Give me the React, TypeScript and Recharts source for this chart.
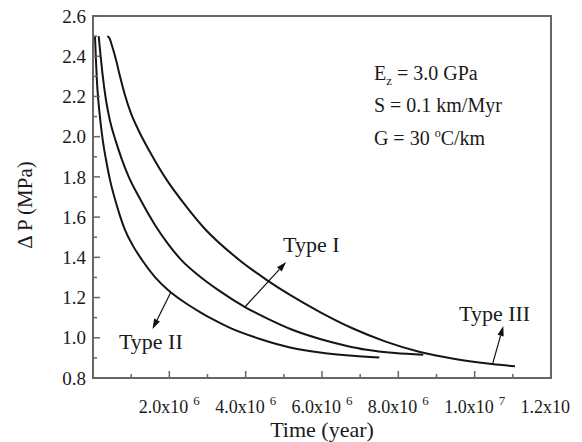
import React from 'react';
import { LineChart, Line, XAxis, YAxis, ReferenceArea, ReferenceLine, ReferenceDot, Label } from 'recharts';

// Time in years, pressure difference in MPa
const typeIITime = [5.2e4, 7.9e4, 1.05e5, 1.39e5, 1.96e5, 2.62e5, 3.41e5, 4.45e5, 6.03e5, 7.07e5, 8.38e5, 1.048e6, 1.284e6, 1.624e6, 1.965e6, 2.384e6, 2.803e6, 3.196e6, 3.589e6, 4.375e6, 5.161e6, 5.947e6, 6.733e6, 7.501e6];
const typeIIP = [2.5, 2.372, 2.27, 2.181, 2.074, 1.974, 1.885, 1.785, 1.671, 1.606, 1.536, 1.457, 1.387, 1.302, 1.238, 1.178, 1.128, 1.086, 1.049, 0.994, 0.952, 0.927, 0.912, 0.902];

const typeITime = [1.49e5, 1.96e5, 2.49e5, 3.41e5, 4.45e5, 6.03e5, 7.6e5, 9.25e5, 1.231e6, 1.624e6, 1.965e6, 2.298e6, 2.751e6, 3.275e6, 3.982e6, 4.585e6, 5.206e6, 5.947e6, 6.602e6, 7.171e6, 7.912e6, 8.653e6];
const typeIP = [2.5, 2.407, 2.312, 2.181, 2.079, 1.974, 1.885, 1.805, 1.691, 1.561, 1.467, 1.39, 1.312, 1.238, 1.153, 1.094, 1.041, 0.994, 0.962, 0.94, 0.924, 0.916];

const typeIIITime = [3.75e5, 4.32e5, 4.98e5, 6.03e5, 7.07e5, 8.38e5, 9.96e5, 1.179e6, 1.493e6, 1.931e6, 2.41e6, 2.934e6, 3.799e6, 4.585e6, 5.161e6, 5.947e6, 6.812e6, 7.65e6, 8.567e6, 9.484e6, 1.0453e7, 1.1056e7];
const typeIIIP = [2.5, 2.489, 2.452, 2.382, 2.3, 2.206, 2.116, 2.037, 1.924, 1.785, 1.661, 1.541, 1.392, 1.283, 1.213, 1.128, 1.046, 0.982, 0.929, 0.895, 0.87, 0.858];

const xTicks = [0, 1e6, 2e6, 3e6, 4e6, 5e6, 6e6, 7e6, 8e6, 9e6, 1e7, 1.1e7, 1.2e7];
const yTicks = [0.8, 0.9, 1.0, 1.1, 1.2, 1.3, 1.4, 1.5, 1.6, 1.7, 1.8, 1.9, 2.0, 2.1, 2.2, 2.3, 2.4, 2.5, 2.6];

const toRows = (ts: number[], ps: number[]) => ts.map((t, i) => ({ t, p: ps[i] }));
const typeII = toRows(typeIITime, typeIIP);
const typeI = toRows(typeITime, typeIP);
const typeIII = toRows(typeIIITime, typeIIIP);

const FONT = '"Liberation Serif", "Times New Roman", serif';
const TXT = '#1a1a1a';
const AXIS = '#666';
const CURVE = '#151515';

const XTick = (props: any) => {
  const { x, y, payload } = props;
  const v = payload.value as number;
  const major = Math.round(v / 1e6) % 2 === 0;
  const len = major ? 7 : 4;
  let label: any = null;
  if (major && v > 0) {
    const exp = Math.floor(Math.log10(v) + 1e-9);
    const mant = (v / Math.pow(10, exp)).toFixed(1);
    label = (
      <text x={x} y={y + 35} textAnchor="middle" fontFamily={FONT} fontSize={18} fill={TXT}>
        <tspan>{mant}x10</tspan>
        <tspan dx={5} dy={-8} fontSize={13}>{exp}</tspan>
      </text>
    );
  }
  return (
    <g>
      <line x1={x} y1={y} x2={x} y2={y - len} stroke={AXIS} strokeWidth={1.5} />
      {label}
    </g>
  );
};

const YTick = (props: any) => {
  const { x, y, payload } = props;
  const v = payload.value as number;
  const major = Math.round(v * 10) % 2 === 0;
  const len = major ? 7 : 4;
  return (
    <g>
      <line x1={x} y1={y} x2={x + len} y2={y} stroke={AXIS} strokeWidth={1.5} />
      {major && (
        <text x={x - 7} y={y} dy="0.35em" textAnchor="end" fontFamily={FONT} fontSize={19} fill={TXT}>
          {v.toFixed(1)}
        </text>
      )}
    </g>
  );
};

const Arrow = (props: any) => {
  const { x1, y1, x2, y2 } = props;
  const ang = Math.atan2(y2 - y1, x2 - x1);
  const L = 10;
  const W = 3.2;
  const bx = x2 - L * Math.cos(ang);
  const by = y2 - L * Math.sin(ang);
  const px = -Math.sin(ang) * W;
  const py = Math.cos(ang) * W;
  return (
    <g>
      <line x1={x1} y1={y1} x2={bx} y2={by} stroke="#111" strokeWidth={1.2} />
      <polygon points={`${x2},${y2} ${bx + px},${by + py} ${bx - px},${by - py}`} fill="#111" />
    </g>
  );
};

const makeText = (content: any, size: number) => (p: any) => (
  <text x={p.cx} y={p.cy} fontFamily={FONT} fontSize={size} fill={TXT}>
    {content}
  </text>
);

const XTitle = (props: any) => {
  const vb = props.viewBox || {};
  return (
    <text x={vb.x + vb.width / 2} y={vb.y + 59} textAnchor="middle" fontFamily={FONT} fontSize={22} fill={TXT}>
      Time (year)
    </text>
  );
};

const YTitle = (props: any) => {
  const vb = props.viewBox || {};
  const cx = 25;
  const cy = vb.y + vb.height / 2 + 8;
  return (
    <text x={cx} y={cy} transform={`rotate(-90 ${cx} ${cy})`} textAnchor="middle" dominantBaseline="central" fontFamily={FONT} fontSize={21} fill={TXT}>
      Δ P (MPa)
    </text>
  );
};

export default function App() {
  return (
    <div style={{ width: 582, height: 442, margin: '-8px 0 0 -8px' }}>
      <LineChart width={582} height={442} margin={{ top: 16, right: 31, bottom: 0, left: 8 }}>
        <XAxis
          dataKey="t"
          type="number"
          domain={[0, 1.2e7]}
          ticks={xTicks}
          interval={0}
          tickSize={0}
          tickMargin={0}
          tick={<XTick />}
          axisLine={{ stroke: AXIS, strokeWidth: 2 }}
          height={64}
          allowDataOverflow
        >
          <Label content={XTitle} />
        </XAxis>
        <YAxis
          type="number"
          domain={[0.8, 2.6]}
          ticks={yTicks}
          interval={0}
          tickSize={0}
          tickMargin={0}
          tick={<YTick />}
          axisLine={{ stroke: AXIS, strokeWidth: 2 }}
          width={85}
          allowDataOverflow
        >
          <Label content={YTitle} />
        </YAxis>
        <ReferenceArea x1={0} x2={1.2e7} y1={0.8} y2={2.6} fill="none" stroke={AXIS} strokeWidth={2} ifOverflow="visible" />
        <Line data={typeII} dataKey="p" type="monotone" stroke={CURVE} strokeWidth={2} dot={false} isAnimationActive={false} />
        <Line data={typeI} dataKey="p" type="monotone" stroke={CURVE} strokeWidth={2} dot={false} isAnimationActive={false} />
        <Line data={typeIII} dataKey="p" type="monotone" stroke={CURVE} strokeWidth={2} dot={false} isAnimationActive={false} />

        <ReferenceLine segment={[{ x: 3.98e6, y: 1.153 }, { x: 5.06e6, y: 1.377 }]} shape={Arrow} ifOverflow="visible" />
        <ReferenceLine segment={[{ x: 2.04e6, y: 1.226 }, { x: 1.56e6, y: 1.044 }]} shape={Arrow} ifOverflow="visible" />
        <ReferenceLine segment={[{ x: 1.047e7, y: 0.87 }, { x: 1.075e7, y: 1.059 }]} shape={Arrow} ifOverflow="visible" />

        <ReferenceDot x={4.98e6} y={1.428} r={0} ifOverflow="visible" shape={makeText('Type I', 22)} />
        <ReferenceDot x={0.68e6} y={0.944} r={0} ifOverflow="visible" shape={makeText('Type II', 22)} />
        <ReferenceDot x={9.59e6} y={1.085} r={0} ifOverflow="visible" shape={makeText('Type III', 22)} />

        <ReferenceDot
          x={7.36e6}
          y={2.283}
          r={0}
          ifOverflow="visible"
          shape={makeText(
            <>
              <tspan>E</tspan>
              <tspan dy={5} fontSize={13}>z</tspan>
              <tspan dy={-5}> = 3.0 GPa</tspan>
            </>,
            20
          )}
        />
        <ReferenceDot x={7.36e6} y={2.121} r={0} ifOverflow="visible" shape={makeText('S = 0.1 km/Myr', 20)} />
        <ReferenceDot
          x={7.36e6}
          y={1.959}
          r={0}
          ifOverflow="visible"
          shape={makeText(
            <>
              <tspan>G = 30 </tspan>
              <tspan dy={-8} fontSize={12}>o</tspan>
              <tspan dy={8}>C/km</tspan>
            </>,
            20
          )}
        />
      </LineChart>
    </div>
  );
}
